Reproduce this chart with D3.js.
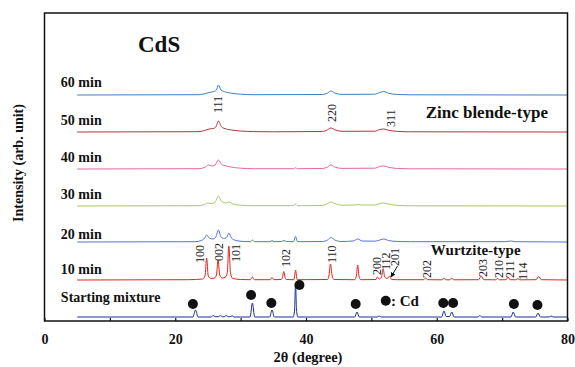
<!DOCTYPE html>
<html>
<head>
<meta charset="utf-8">
<script src="https://cdn.jsdelivr.net/npm/d3@7"></script>
<style>
  html, body { margin: 0; padding: 0; background: #fff; }
  svg { display: block; }
</style>
</head>
<body>
<svg id="chart" width="575" height="367"></svg>
<script>
// XRD patterns of CdS after milling; intensity in arbitrary units above each trace's baseline.
const startMix = [[5,0],[22.7,0],[23.1,7],[23.5,0],[25.5,0],[25.8,1.5],[26.1,0.3],[26.6,0.3],[26.9,1.5],[27.2,0.3],[27.5,0.3],[27.8,1.5],[28.1,0.3],[28.4,0.3],[28.7,1.2],[29.0,0],[31.45,0],[31.8,14],[32.15,0],[34.45,0],[34.8,7],[35.15,0],[38.05,0],[38.25,7],[38.4,34],[38.55,7],[38.75,0],[47.45,0],[47.8,5],[48.15,0],[50.9,0],[51.2,1],[51.5,0],[60.75,0],[61.1,6],[61.45,0.5],[61.95,0.5],[62.3,5],[62.65,0],[66.3,0],[66.6,1.5],[66.9,0],[71.35,0],[71.7,5],[72.05,0],[75.15,0],[75.5,4],[75.85,0],[77.2,0],[77.5,1],[77.8,0],[80,0]];
const min10 = [[5,0],[22,0.3],[24.2,1],[24.55,4],[24.8,22],[25.05,4],[25.5,1.5],[26.0,2],[26.3,5],[26.55,20],[26.8,5],[27.2,2],[27.7,3],[27.95,7],[28.2,34],[28.45,7],[28.8,1.5],[30,0.5],[31.5,0.3],[31.8,3],[32.1,0.3],[34.5,0.3],[34.8,2.5],[35.1,0.3],[36.2,0.5],[36.4,2.5],[36.6,8.5],[36.8,2.5],[37.0,0.5],[38.15,0.3],[38.4,10],[38.65,0.3],[43.3,0.5],[43.5,4],[43.75,16],[44.0,4],[44.3,0.5],[47.45,0.3],[47.7,4],[47.9,15],[48.1,4],[48.4,0.3],[50.7,0.5],[50.9,3],[51.2,1],[51.55,3],[51.8,11],[52.05,3],[52.4,1.5],[52.8,4],[53.1,0.5],[54,0.3],[58.0,0.3],[58.3,2],[58.6,0.3],[60.8,0.2],[61.1,2],[61.4,0.2],[62.0,0.2],[62.3,2],[62.6,0.2],[66.4,0.3],[66.8,4],[67.2,0.3],[69.0,0.2],[69.3,1.5],[69.6,0.2],[70.6,0.3],[70.9,3],[71.2,0.3],[72.1,0.2],[72.4,1.5],[72.7,0.2],[75.2,0.3],[75.6,3.5],[76.0,0.3],[80,0]];
const min20 = [[5,0],[23,0.3],[24.0,1.5],[24.5,4],[24.8,7],[25.2,4],[25.8,3],[26.2,5],[26.6,12],[27.0,5],[27.5,3.5],[27.9,5],[28.2,9],[28.6,4],[29.3,1.5],[30.5,0.5],[31.5,0.3],[31.8,2],[32.1,0.3],[34.5,0.3],[34.8,1.5],[35.1,0.3],[36.2,0.5],[36.6,1.5],[37.0,0.5],[38.1,0.3],[38.4,5.5],[38.7,0.3],[42.5,0.5],[43.3,2],[43.8,4.5],[44.4,2],[45.5,0.5],[47.2,1],[47.9,3],[48.6,1],[50.5,0.8],[51.3,2],[51.9,3],[52.6,1.5],[54,0.5],[56,0.3],[70.5,0.3],[71.3,1],[72,0.3],[80,0]];
const min30 = [[5,0],[23.5,0.3],[24.5,1.5],[25.0,3],[25.5,2.5],[26.1,4],[26.6,10],[27.1,4.5],[27.7,3],[28.2,4],[28.8,2],[30,0.8],[32,0.3],[38.1,0.3],[38.4,2],[38.7,0.3],[42.5,0.5],[43.3,2.5],[43.8,4],[44.4,2.5],[45.5,0.8],[47.5,1],[48,1.5],[48.5,1],[50.5,1],[51.3,2.5],[51.9,3],[52.6,2],[54,0.6],[56,0.2],[80,0]];
const min40 = [[5,0],[23.5,0.3],[24.5,1.5],[25.1,4],[25.6,3],[26.1,4],[26.6,9],[27.1,4.5],[27.8,3],[28.5,2],[30,0.8],[32,0.3],[38.1,0.3],[38.4,1.2],[38.7,0.3],[42.5,0.5],[43.3,2],[43.8,4],[44.4,2],[45.5,0.6],[50.5,0.8],[51.3,2.5],[51.9,3],[52.6,1.8],[54,0.5],[56,0.2],[80,0]];
const min50 = [[5,0],[23.5,0.3],[24.5,1.5],[25.2,3],[25.8,3.5],[26.2,5],[26.6,11],[27.1,5],[27.8,3],[28.6,2],[30,1],[32,0.4],[35,0.2],[42.5,0.5],[43.3,2.2],[43.8,4],[44.4,2.2],[45.5,0.7],[50.5,0.8],[51.3,2.5],[51.9,3],[52.6,1.8],[54,0.6],[56,0.2],[80,0]];
const min60 = [[5,0],[23.5,0.3],[24.5,1.2],[25.2,2.5],[25.9,3.5],[26.3,5],[26.6,10],[27.0,5],[27.7,3],[28.6,1.8],[30,0.8],[32,0.3],[42.5,0.5],[43.3,2],[43.8,4],[44.4,2],[45.5,0.6],[50.5,0.8],[51.3,2.5],[51.9,3.5],[52.6,1.8],[54,0.5],[56,0.2],[80,0]];

const seriesNames = ["Starting mixture", "10 min", "20 min", "30 min", "40 min", "50 min", "60 min"];
const seriesData = [startMix, min10, min20, min30, min40, min50, min60];
const seriesOffsets = [4, 41, 79, 115, 152, 189, 226];
const seriesColors = ["#1c2d9c", "#e3231b", "#5672dc", "#a9c95e", "#e5689f", "#b5333f", "#3d7fc6"];
const seriesLabelDy = [15, 6, 3, 7, 7, 7, 8];

// Wurtzite reflections (on the 10 min trace) and zinc blende reflections (on the 50 min trace)
const wurtziteHkl = ["100", "002", "101", "102", "110", "200", "112", "201", "202", "203", "210", "211", "114"];
const wurtziteAt = [23.8, 26.6, 29.2, 36.9, 43.9, 50.8, 52.2, 53.6, 58.5, 67.1, 69.5, 71.1, 73.2];
const wurtziteLift = [17, 19, 18, 13, 17, 5, 10, 14, 2, 3, 2, 2, 0];
const blendeHkl = ["111", "220", "311"];
const blendeAt = [26.5, 43.9, 53.0];
const blendeLift = [19, 10, 5];

// Cd reflections in the starting mixture, marked with filled circles
const cdMarks = [[22.7, 17], [31.6, 26], [34.7, 18], [39.0, 36], [47.6, 17], [61.0, 18], [62.5, 18], [71.8, 17], [75.4, 16]];

const xTicks = [0, 10, 20, 30, 40, 50, 60, 70, 80];

const SERIF = "'Liberation Serif', 'Times New Roman', 'DejaVu Serif', serif";

const svg = d3.select("#chart");
const plotLeft = 44.5, plotRight = 567.5, plotTop = 13, plotBottom = 321;

const x = d3.scaleLinear().domain([0, 80]).range([plotLeft, plotRight]);
const y = d3.scaleLinear().domain([0, plotBottom - plotTop]).range([plotBottom, plotTop]);

function label(sel, size, bold) {
  return sel.style("font-family", SERIF)
    .style("font-size", size + "px")
    .style("font-weight", bold ? "bold" : "normal")
    .attr("fill", "#111");
}

// traces
const line = d3.line()
  .x(d => x(d[0]))
  .y(d => y(d[1]))
  .curve(d3.curveMonotoneX);

seriesData.forEach((data, i) => {
  const off = seriesOffsets[i];
  svg.append("path")
    .datum(data.map(d => [d[0], d[1] + off]))
    .attr("d", line)
    .attr("fill", "none")
    .attr("stroke", seriesColors[i])
    .attr("stroke-width", 1)
    .attr("stroke-linejoin", "round");
  label(svg.append("text"), 14, true)
    .attr("x", x(2.5))
    .attr("y", y(off + seriesLabelDy[i]))
    .text(seriesNames[i]);
});

// rotated Miller index labels
function hklLabels(names, at, lift, off) {
  names.forEach((t, i) => {
    const px = x(at[i]), py = y(off + lift[i]);
    label(svg.append("text"), 12, false)
      .attr("transform", `translate(${px},${py}) rotate(-90)`)
      .attr("dy", "0.35em")
      .attr("fill", "#222")
      .text(t);
  });
}
hklLabels(wurtziteHkl, wurtziteAt, wurtziteLift, seriesOffsets[1]);
hklLabels(blendeHkl, blendeAt, blendeLift, seriesOffsets[5]);

// arrow pointing to the 201 reflection
svg.append("defs").append("marker")
  .attr("id", "arrowhead")
  .attr("viewBox", "0 0 10 10")
  .attr("refX", 9).attr("refY", 5)
  .attr("markerWidth", 5).attr("markerHeight", 5)
  .attr("orient", "auto")
  .append("path").attr("d", "M0,0 L10,5 L0,10 z").attr("fill", "#111");
svg.append("line")
  .attr("x1", x(54.0)).attr("y1", y(seriesOffsets[1] + 14))
  .attr("x2", x(53.0)).attr("y2", y(seriesOffsets[1] + 3))
  .attr("stroke", "#111").attr("stroke-width", 1)
  .attr("marker-end", "url(#arrowhead)");

// Cd markers
svg.selectAll("circle.cd")
  .data(cdMarks)
  .join("circle")
  .attr("class", "cd")
  .attr("cx", d => x(d[0]))
  .attr("cy", d => y(d[1]))
  .attr("r", 5)
  .attr("fill", "#111");
svg.append("circle").attr("cx", x(52.2)).attr("cy", y(20.3)).attr("r", 5).attr("fill", "#111");
label(svg.append("text"), 15, true)
  .attr("x", x(53.0)).attr("y", y(15.5))
  .text(": Cd");

// annotations
label(svg.append("text"), 17, true).attr("x", x(58.3)).attr("y", 118).text("Zinc blende-type");
label(svg.append("text"), 15, true).attr("x", x(59.1)).attr("y", 255).text("Wurtzite-type");
label(svg.append("text"), 23, true).attr("x", 138).attr("y", 52).text("CdS");

// frame
svg.append("rect")
  .attr("x", plotLeft).attr("y", plotTop)
  .attr("width", plotRight - plotLeft).attr("height", plotBottom - plotTop)
  .attr("fill", "none").attr("stroke", "#111").attr("stroke-width", 1.5);

// bottom axis with inward ticks
const xAxis = d3.axisBottom(x)
  .tickValues(xTicks)
  .tickSize(-3)
  .tickPadding(13)
  .tickFormat(d => (d % 20 === 0 ? d : ""));
const gx = svg.append("g").attr("transform", `translate(0,${plotBottom})`).call(xAxis);
gx.attr("font-family", null).attr("font-size", null);
gx.select(".domain").remove();
gx.selectAll(".tick line").attr("stroke", "#111").attr("stroke-width", 1.2);
label(gx.selectAll(".tick text"), 14, true);

// axis titles
label(svg.append("text"), 14.5, true)
  .attr("x", (plotLeft + plotRight) / 2 + 2).attr("y", 362)
  .attr("text-anchor", "middle")
  .text("2θ (degree)");
label(svg.append("text"), 14, true)
  .attr("transform", "translate(18,163) rotate(-90)")
  .attr("text-anchor", "middle")
  .attr("dy", "0.35em")
  .text("Intensity (arb. unit)");
</script>
</body>
</html>
